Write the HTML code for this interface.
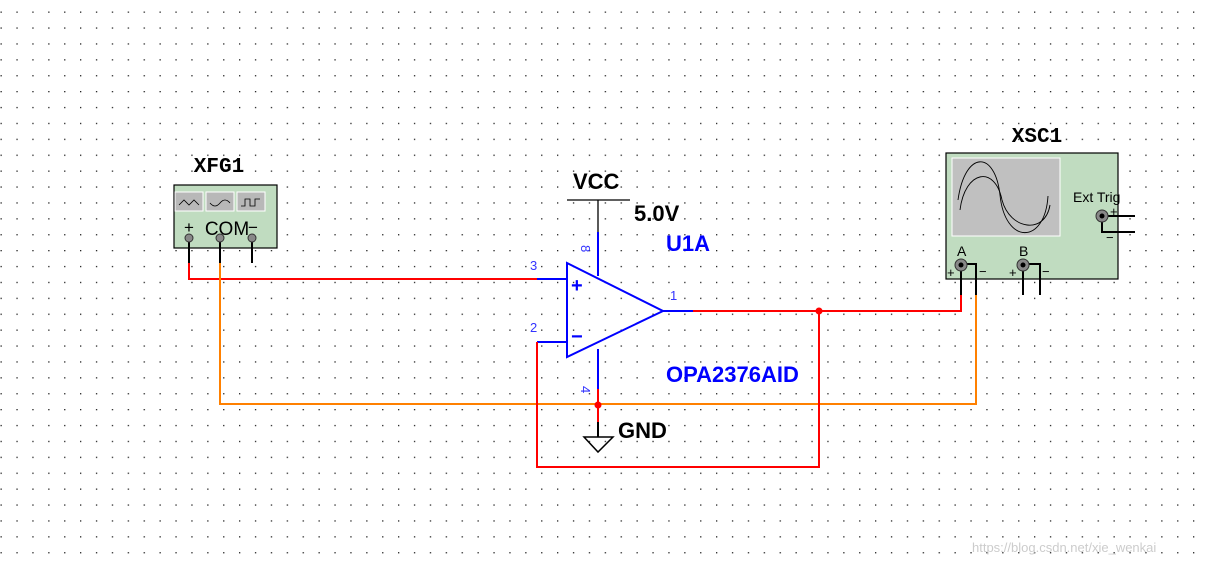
<!DOCTYPE html>
<html><head><meta charset="utf-8"><style>
body{margin:0;background:#fff}
svg{display:block}
.m{font-family:"Liberation Mono",monospace;font-weight:bold}
.s{font-family:"Liberation Sans",sans-serif}
</style></head><body>
<svg width="1205" height="565" xmlns="http://www.w3.org/2000/svg">
<defs><pattern id="g" x="0.5" y="11.5" width="15.9" height="15.9" patternUnits="userSpaceOnUse"><rect width="1.3" height="1.3" fill="#222"/></pattern></defs>
<rect width="1205" height="565" fill="url(#g)"/>
<!-- XFG1 -->
<text x="219" y="172" class="m" font-size="21" text-anchor="middle">XFG1</text>
<rect x="174" y="185" width="103" height="63" fill="#c0dcc0" stroke="#000" stroke-width="1.2"/>
<g fill="#b8b8b8" stroke="#fff" stroke-width="1"><rect x="175" y="192" width="28" height="19"/><rect x="206" y="192" width="28" height="19"/><rect x="237" y="192" width="28" height="19"/></g>
<g fill="none" stroke="#000" stroke-width="0.8"><path d="M179 205 l5-5 5 5 5-5 5 5"/><path d="M210 203 q5 6 10 0 q5-6 10 0"/><path d="M241 206 h4 v-7 h5 v7 h5 v-7 h5"/></g>
<text x="189" y="233" class="s" font-size="17" text-anchor="middle">+</text>
<text x="227" y="235" class="s" font-size="19" text-anchor="middle">COM</text>
<text x="253" y="233" class="s" font-size="17" text-anchor="middle">−</text>
<g stroke="#000" stroke-width="2"><line x1="189" y1="238" x2="189" y2="263"/><line x1="220" y1="238" x2="220" y2="263"/><line x1="252" y1="238" x2="252" y2="263"/></g>
<g fill="#888" stroke="#333" stroke-width="1"><circle cx="189" cy="238" r="4"/><circle cx="220" cy="238" r="4"/><circle cx="252" cy="238" r="4"/></g>
<!-- wires -->
<g fill="none" stroke-width="2">
<path d="M189 263 V279 H537" stroke="#f00"/>
<path d="M537 279 H567" stroke="#00f"/>
<path d="M220 263 V404 H976 V295" stroke="#ff8000"/>
<path d="M537 342 H567" stroke="#00f"/>
<path d="M537 342 V467 H819 V311" stroke="#f00"/>
<path d="M663 311 H693" stroke="#00f"/>
<path d="M693 311 H961 V295" stroke="#f00"/>
<path d="M598 276 V232" stroke="#00f"/>
<path d="M598 232 V200 M567 200 H630" stroke="#000" stroke-width="1.3"/>
<path d="M598 349 V389" stroke="#00f"/>
<path d="M598 389 V422" stroke="#f00"/>
<path d="M598 422 V437" stroke="#000"/>
<path d="M567 263 L663 311 L567 357 Z" stroke="#00f"/>
<path d="M584 437 H613 L598 452 Z" stroke="#000" stroke-width="1.5"/>
</g>
<circle cx="819" cy="311" r="3.5" fill="#f00"/>
<circle cx="598" cy="405" r="3.5" fill="#f00"/>
<text x="571" y="292" class="s" font-size="20" font-weight="bold" fill="#00f">+</text>
<text x="571" y="343" class="s" font-size="20" font-weight="bold" fill="#00f">−</text>
<g class="s" font-size="13" fill="#33f"><text x="530" y="270">3</text><text x="530" y="332">2</text><text x="670" y="300">1</text>
<text transform="translate(581,245) rotate(90)">8</text><text transform="translate(581,386) rotate(90)">4</text></g>
<g class="s" font-weight="bold" font-size="22"><text x="573" y="189">VCC</text><text x="634" y="221">5.0V</text>
<text x="666" y="251" fill="#00f">U1A</text><text x="666" y="382" fill="#00f">OPA2376AID</text>
<text x="618" y="438">GND</text></g>
<!-- XSC1 -->
<text x="1037" y="142" class="m" font-size="21" text-anchor="middle">XSC1</text>
<rect x="946" y="153" width="172" height="126" fill="#c0dcc0" stroke="#000" stroke-width="1.2"/>
<rect x="952" y="158" width="108" height="78" fill="#c0c0c0" stroke="#fff" stroke-width="1"/>
<g fill="none" stroke="#000" stroke-width="0.9"><path d="M958 200 C965 150,995 150,1000 195 C1005 245,1045 245,1048 196"/><path d="M960 210 C965 170,995 165,1002 200 C1010 230,1045 235,1050 205"/></g>
<text x="1073" y="202" class="s" font-size="14">Ext Trig</text>
<g class="s" font-size="14"><text x="957" y="256">A</text><text x="1019" y="256">B</text></g>
<g class="s" font-size="13"><text x="947" y="277">+</text><text x="979" y="276">−</text><text x="1009" y="277">+</text><text x="1042" y="276">−</text><text x="1110" y="216">+</text><text x="1106" y="242">−</text></g>
<g stroke="#000" stroke-width="2" fill="none"><path d="M961 264 V295"/><path d="M961 264 H976 V295"/><path d="M1023 264 V295"/><path d="M1023 264 H1040 V295"/><path d="M1102 216 H1135"/><path d="M1102 216 V232 H1135"/></g>
<g fill="#888" stroke="#333" stroke-width="1"><circle cx="961" cy="265" r="6"/><circle cx="1023" cy="265" r="6"/><circle cx="1102" cy="216" r="6"/></g>
<g fill="#000"><circle cx="961" cy="265" r="2.5"/><circle cx="1023" cy="265" r="2.5"/><circle cx="1102" cy="216" r="2.5"/></g>
<text x="972" y="552" class="s" font-size="13" fill="#ccc">https://blog.csdn.net/xie_wenkai</text>
</svg>
</body></html>
